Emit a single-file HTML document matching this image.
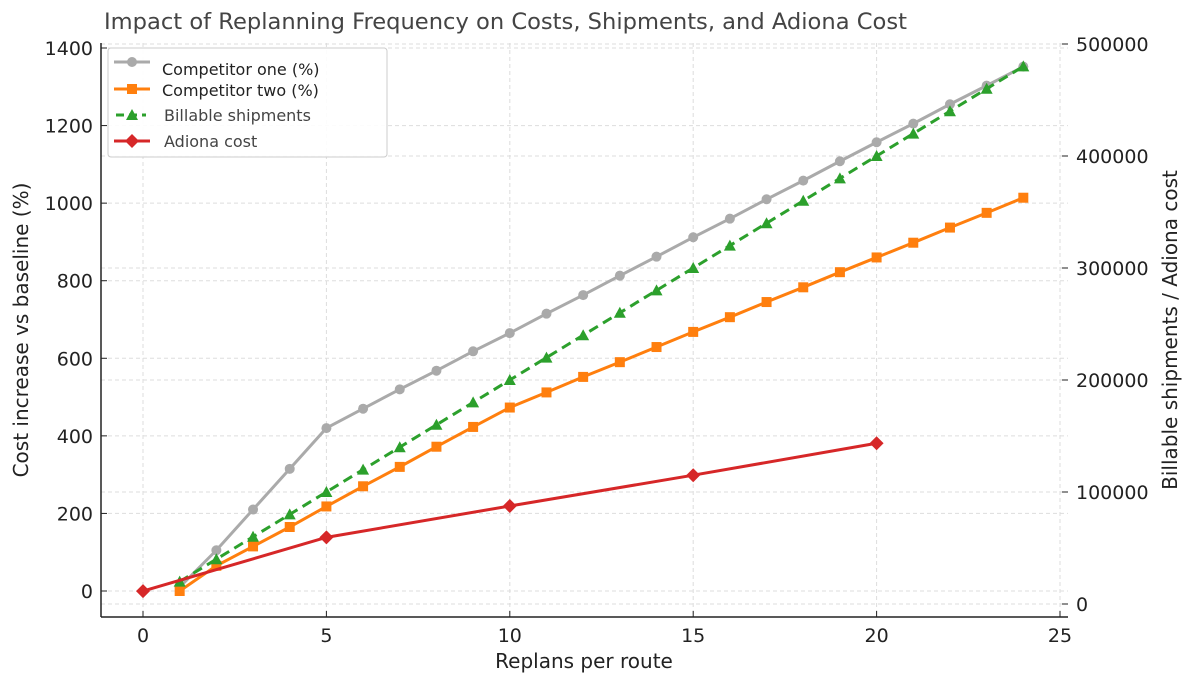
<!DOCTYPE html>
<html><head><meta charset="utf-8"><style>
body{margin:0;background:#fff;width:1194px;height:684px;overflow:hidden}
svg text{font-family:"DejaVu Sans","Liberation Sans",sans-serif;fill:#222}
</style></head><body>
<svg id="chart" width="1194" height="684"></svg>
<script>
const xs=[1,2,3,4,5,6,7,8,9,10,11,12,13,14,15,16,17,18,19,20,21,22,23,24];
const compOne=[10,105,210,315,420,470,520,568,618,665,715,763,813,862,912,960,1010,1058,1108,1157,1205,1255,1303,1352];
const compTwo=[0,65,115,165,218,270,320,372,423,473,512,552,590,629,668,706,745,783,822,860,898,937,975,1014];
const billable=[20000,40000,60000,80000,100000,120000,140000,160000,180000,200000,220000,240000,260000,280000,300000,320000,340000,360000,380000,400000,420000,440000,460000,480000];
const adionaX=[0,5,10,15,20];
const adionaCost=[11500,59500,87500,115000,143500];
const xTicks=[0,5,10,15,20,25];
const yLeftTicks=[0,200,400,600,800,1000,1200,1400];
const yRightTicks=[0,100000,200000,300000,400000,500000];

const svg=document.getElementById('chart');
const NS='http://www.w3.org/2000/svg';
const L=101,R=1068,T=43,B=617;
const X=v=>143+v*(1060-143)/25;
const YL=v=>591-v*(591-48)/1400;
const YR=v=>604-v*(604-44)/500000;
function mk(tag,attrs,parent){const e=document.createElementNS(NS,tag);for(const k in attrs)e.setAttribute(k,attrs[k]);(parent||svg).appendChild(e);return e;}

const grid=mk('g',{});


xTicks.forEach(t=>mk('line',{x1:X(t),x2:X(t),y1:T,y2:B,stroke:'#ddd','stroke-dasharray':'4,3'},grid));
yLeftTicks.forEach(t=>mk('line',{x1:L,x2:R,y1:YL(t),y2:YL(t),stroke:'#ddd','stroke-dasharray':'4,3'},grid));
yRightTicks.forEach(t=>mk('line',{x1:L,x2:R,y1:YR(t),y2:YR(t),stroke:'#ddd','stroke-dasharray':'4,3'},grid));

const ax=mk('g',{});


mk('line',{x1:L,x2:L,y1:T,y2:B,stroke:'#222','stroke-width':1.5},ax);
mk('line',{x1:L,x2:R,y1:B,y2:B,stroke:'#222','stroke-width':1.5},ax);
xTicks.forEach(t=>{mk('line',{x1:X(t),x2:X(t),y1:B-6,y2:B,stroke:'#222'},ax);
 const tx=mk('text',{x:X(t),y:B+25,'text-anchor':'middle','font-size':19},ax);tx.textContent=t;
 
 });
yLeftTicks.forEach(t=>{mk('line',{x1:L,x2:L+6,y1:YL(t),y2:YL(t),stroke:'#222'},ax);
 const tx=mk('text',{x:L-8,y:YL(t)+7,'text-anchor':'end','font-size':19},ax);tx.textContent=t;
 
 });
yRightTicks.forEach(t=>{mk('line',{x1:R-6,x2:R,y1:YR(t),y2:YR(t),stroke:'#222'},ax);
 const tx=mk('text',{x:R+8,y:YR(t)+7,'font-size':19},ax);tx.textContent=t;
 
 });

function series(px,py,color,marker,name,dash){
 const g=mk('g',{});
 
 
 mk('polyline',{points:px.map((x,i)=>x+','+py[i]).join(' '),fill:'none',stroke:color,'stroke-width':3,'stroke-dasharray':dash||'none'},g);
 px.forEach((x,i)=>{const y=py[i];
  if(marker==='o')mk('circle',{cx:x,cy:y,r:5,fill:color},g);
  else if(marker==='s')mk('rect',{x:x-5,y:y-5,width:10,height:10,fill:color},g);
  else if(marker==='^')mk('polygon',{points:`${x},${y-6} ${x-6},${y+5} ${x+6},${y+5}`,fill:color},g);
  else mk('polygon',{points:`${x},${y-7} ${x+7},${y} ${x},${y+7} ${x-7},${y}`,fill:color},g);});
}
series(xs.map(X),compOne.map(YL),'#aaaaaa','o','competitor-one-series');
series(xs.map(X),compTwo.map(YL),'#ff7f0e','s','competitor-two-series');
series(xs.map(X),billable.map(YR),'#2ca02c','^','billable-shipments-series','10,6');
series(adionaX.map(X),adionaCost.map(YR),'#d62728','D','adiona-cost-series');
</script>
<svg width="1194" height="684" style="position:absolute;left:0;top:0;pointer-events:none">
<text x="104" y="29" font-size="22.6" fill="#444" style="fill:#444">Impact of Replanning Frequency on Costs, Shipments, and Adiona Cost (</text>
<rect x="912" y="0" width="150" height="40" fill="#fff"/>
<text x="584" y="668" font-size="20" text-anchor="middle">Replans per route</text>
<text transform="translate(28,330) rotate(-90)" font-size="20" text-anchor="middle">Cost increase vs baseline (%)</text>
<text transform="translate(1177,330) rotate(-90)" font-size="20" text-anchor="middle">Billable shipments / Adiona cost</text>
<g>
<rect x="108" y="48" width="279" height="109" rx="3" fill="#fff" fill-opacity="0.9" stroke="#ccc"/>
<g><line x1="114" x2="150" y1="62" y2="62" stroke="#aaa" stroke-width="3"/><circle cx="132" cy="62" r="5" fill="#aaa"/><text x="162" y="75" font-size="16">Competitor one (%)</text></g>
<g><line x1="114" x2="150" y1="89" y2="89" stroke="#ff7f0e" stroke-width="3"/><rect x="127" y="84" width="10" height="10" fill="#ff7f0e"/><text x="162" y="96" font-size="16">Competitor two (%)</text></g>
<g><line x1="116" x2="146" y1="115" y2="115" stroke="#2ca02c" stroke-width="3" stroke-dasharray="8,5"/><polygon points="132,109 126,120 138,120" fill="#2ca02c"/><text x="164" y="121" font-size="16" style="fill:#444">Billable shipments</text></g>
<g><line x1="114" x2="150" y1="141" y2="141" stroke="#d62728" stroke-width="3"/><polygon points="132,134 139,141 132,148 125,141" fill="#d62728"/><text x="164" y="147" font-size="16" style="fill:#444">Adiona cost</text></g>
</g>
</svg>
</body></html>
